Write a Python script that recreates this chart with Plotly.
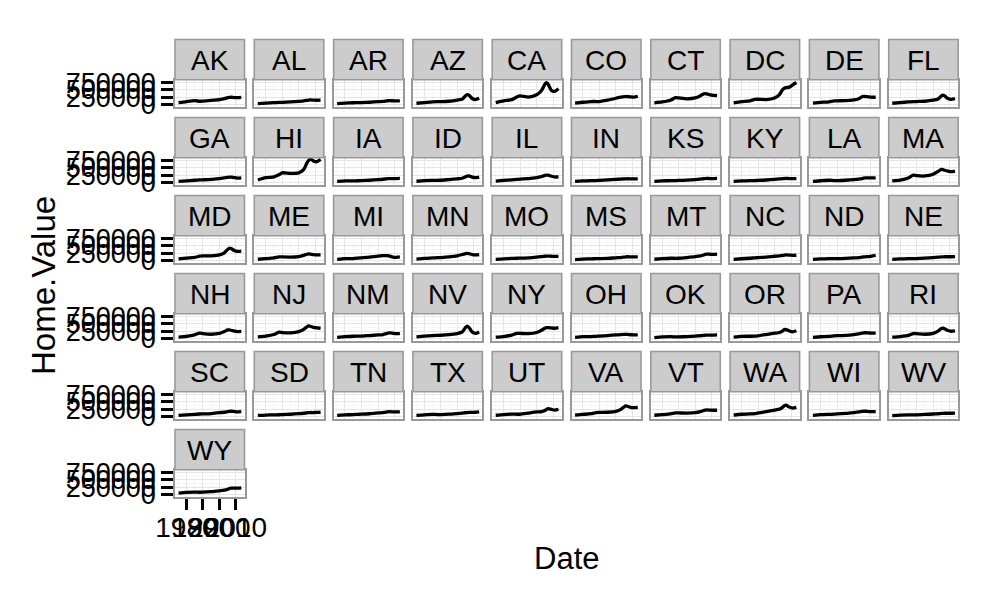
import plotly.graph_objects as go

states = ["AK","AL","AR","AZ","CA","CO","CT","DC","DE","FL",
          "GA","HI","IA","ID","IL","IN","KS","KY","LA","MA",
          "MD","ME","MI","MN","MO","MS","MT","NC","ND","NE",
          "NH","NJ","NM","NV","NY","OH","OK","OR","PA","RI",
          "SC","SD","TN","TX","UT","VA","VT","WA","WI","WV","WY"]

dates = [1975.25, 1980, 1985, 1988, 1990, 1995, 2000, 2003, 2005, 2006, 2007, 2009, 2011, 2013.25]

# Home values in thousands of dollars
home_value_k = {
    "AK": [60, 95, 125, 105, 110, 135, 165, 195, 230, 240, 245, 235, 230, 240],
    "AL": [25, 40, 55, 62, 65, 80, 100, 115, 135, 145, 150, 145, 140, 142],
    "AR": [25, 40, 52, 56, 58, 70, 90, 100, 115, 122, 125, 122, 118, 120],
    "AZ": [35, 60, 85, 90, 90, 105, 145, 180, 300, 340, 320, 200, 165, 210],
    "CA": [60, 120, 160, 250, 290, 250, 330, 480, 700, 760, 700, 480, 450, 540],
    "CO": [40, 70, 95, 95, 95, 140, 210, 245, 265, 270, 270, 255, 250, 280],
    "CT": [50, 80, 140, 230, 220, 190, 220, 290, 360, 375, 365, 330, 310, 300],
    "DC": [50, 90, 120, 170, 175, 165, 220, 340, 520, 560, 580, 600, 680, 760],
    "DE": [40, 65, 85, 115, 120, 125, 150, 195, 260, 275, 270, 255, 245, 245],
    "FL": [35, 60, 80, 90, 95, 105, 140, 185, 290, 320, 290, 200, 170, 200],
    "GA": [30, 50, 70, 80, 85, 100, 130, 150, 170, 180, 180, 160, 145, 155],
    "HI": [80, 160, 190, 260, 330, 310, 330, 440, 680, 760, 820, 740, 720, 800],
    "IA": [30, 45, 50, 52, 55, 70, 90, 105, 120, 125, 127, 127, 128, 132],
    "ID": [35, 55, 65, 65, 70, 95, 120, 140, 190, 220, 225, 180, 160, 180],
    "IL": [40, 65, 85, 100, 110, 125, 160, 200, 240, 250, 245, 210, 185, 185],
    "IN": [28, 45, 55, 60, 65, 80, 100, 110, 118, 120, 122, 118, 115, 118],
    "KS": [28, 45, 58, 60, 62, 75, 95, 110, 122, 128, 132, 130, 128, 132],
    "KY": [28, 45, 55, 60, 63, 78, 100, 115, 125, 130, 133, 130, 128, 130],
    "LA": [30, 52, 70, 60, 60, 70, 90, 110, 130, 145, 152, 150, 150, 155],
    "MA": [45, 75, 150, 250, 230, 220, 280, 380, 450, 440, 420, 390, 370, 390],
    "MD": [45, 75, 100, 140, 150, 155, 185, 260, 380, 420, 410, 340, 310, 320],
    "ME": [35, 55, 80, 120, 115, 110, 130, 170, 210, 220, 215, 200, 190, 190],
    "MI": [33, 55, 60, 75, 85, 110, 145, 160, 165, 160, 145, 110, 100, 115],
    "MN": [38, 65, 80, 90, 95, 115, 155, 200, 235, 240, 230, 200, 185, 200],
    "MO": [30, 50, 62, 70, 72, 85, 110, 125, 140, 145, 145, 140, 135, 138],
    "MS": [25, 40, 50, 55, 56, 65, 85, 95, 110, 118, 122, 120, 118, 120],
    "MT": [35, 55, 70, 68, 70, 95, 125, 150, 185, 205, 215, 210, 205, 215],
    "NC": [33, 52, 70, 85, 90, 110, 140, 155, 170, 180, 185, 180, 170, 175],
    "ND": [28, 45, 55, 55, 55, 65, 80, 95, 110, 115, 120, 130, 145, 175],
    "NE": [28, 45, 55, 58, 60, 75, 95, 108, 118, 120, 122, 122, 122, 128],
    "NH": [40, 65, 120, 180, 160, 140, 170, 235, 290, 290, 280, 250, 235, 240],
    "NJ": [45, 75, 130, 210, 200, 190, 230, 310, 400, 430, 420, 380, 360, 350],
    "NM": [33, 55, 70, 72, 75, 95, 115, 130, 160, 180, 185, 175, 165, 165],
    "NV": [45, 75, 95, 100, 105, 125, 165, 220, 380, 420, 380, 220, 170, 220],
    "NY": [40, 60, 110, 170, 170, 160, 200, 280, 350, 370, 375, 360, 350, 370],
    "OH": [33, 55, 60, 68, 75, 95, 120, 130, 135, 135, 132, 122, 118, 120],
    "OK": [25, 45, 55, 48, 48, 58, 75, 88, 98, 105, 110, 112, 112, 118],
    "OR": [40, 65, 70, 72, 85, 130, 175, 200, 260, 300, 305, 255, 225, 260],
    "PA": [33, 52, 65, 85, 90, 100, 125, 150, 180, 190, 192, 185, 180, 182],
    "RI": [38, 60, 100, 165, 160, 140, 170, 250, 340, 350, 330, 270, 245, 255],
    "SC": [30, 48, 65, 78, 82, 95, 125, 140, 160, 170, 175, 165, 155, 160],
    "SD": [28, 42, 50, 52, 55, 70, 90, 105, 120, 125, 130, 130, 132, 140],
    "TN": [28, 45, 60, 68, 72, 88, 115, 130, 145, 155, 160, 155, 150, 155],
    "TX": [30, 50, 65, 60, 60, 72, 95, 110, 122, 128, 135, 138, 140, 155],
    "UT": [35, 60, 75, 70, 70, 110, 150, 165, 200, 240, 270, 240, 215, 240],
    "VA": [40, 65, 90, 130, 135, 140, 170, 240, 330, 360, 350, 310, 300, 310],
    "VT": [35, 55, 80, 115, 115, 110, 125, 160, 200, 215, 220, 215, 210, 210],
    "WA": [40, 70, 80, 90, 115, 160, 215, 250, 320, 370, 385, 320, 285, 310],
    "WI": [33, 55, 65, 72, 80, 100, 130, 150, 170, 175, 175, 165, 160, 160],
    "WV": [22, 38, 45, 48, 50, 62, 78, 88, 98, 102, 105, 105, 105, 108],
    "WY": [40, 65, 75, 70, 72, 90, 120, 140, 175, 200, 215, 215, 215, 225],
}

x_ticks = [1980, 1990, 2000, 2010]
x_minor = [1975, 1985, 1995, 2005, 2015]
y_ticks = [0, 250000, 500000, 750000]
y_tick_text = ["0", "250000", "500000", "750000"]
y_minor = [125000, 375000, 625000]

FONT = "Liberation Sans, Arial, Helvetica, sans-serif"
W, H = 1000, 600
ncol = 10
col_left0, col_pitch, panel_w = 175.0, 79.3, 69.5
row_top0, row_pitch, panel_h, strip_h = 79.7, 78.0, 27.0, 40.2

fig = go.Figure()
layout = dict(
    template="none",
    width=W, height=H, margin=dict(l=0, r=0, t=0, b=0, pad=0),
    paper_bgcolor="white", plot_bgcolor="white", showlegend=False,
    font=dict(family=FONT, color="black"),
)
shapes, annotations = [], []

for i, st in enumerate(states):
    r, c = divmod(i, ncol)
    left = col_left0 + c * col_pitch
    top = row_top0 + r * row_pitch
    bottom = top + panel_h
    k = "" if i == 0 else str(i + 1)
    xa, ya = "x" + k, "y" + k
    fig.add_trace(go.Scatter(
        x=dates, y=[v * 1000 for v in home_value_k[st]],
        mode="lines", line=dict(color="black", width=3.3, shape="spline", smoothing=0.6),
        xaxis=xa, yaxis=ya, hoverinfo="skip"))
    show_x = (st == "WY")
    show_y = (c == 0)
    layout["xaxis" + k] = dict(
        domain=[left / W, (left + panel_w) / W], anchor=ya, automargin=False,
        range=[1973.1, 2015.2], tickvals=x_ticks, ticktext=[str(t) for t in x_ticks],
        showticklabels=show_x, ticks="outside" if show_x else "", tickangle=0,
        ticklen=11, tickwidth=2.5, tickcolor="black", ticklabelstandoff=-6,
        tickfont=dict(size=28, color="black", family=FONT),
        showgrid=True, gridcolor="#E5E5E5", gridwidth=1.2,
        minor=dict(tickvals=x_minor, showgrid=True, gridcolor="#F7F7F7", gridwidth=1, ticks=""),
        showline=True, mirror=True, linecolor="#999999", linewidth=1.6,
        zeroline=False, fixedrange=True,
    )
    layout["yaxis" + k] = dict(
        domain=[1 - bottom / H, 1 - top / H], anchor=xa, automargin=False,
        range=[-86000, 859000], tickvals=y_ticks, ticktext=y_tick_text,
        showticklabels=show_y, ticks="outside" if show_y else "", tickangle=0,
        ticklen=12, tickwidth=2.5, tickcolor="black",
        tickfont=dict(size=27, color="black", family=FONT),
        showgrid=True, gridcolor="#E5E5E5", gridwidth=1.2,
        minor=dict(tickvals=y_minor, showgrid=True, gridcolor="#F7F7F7", gridwidth=1, ticks=""),
        showline=True, mirror=True, linecolor="#999999", linewidth=1.6,
        zeroline=False, fixedrange=True,
    )
    s_top = top - strip_h
    shapes.append(dict(type="rect", xref="paper", yref="paper",
                       x0=left / W, x1=(left + panel_w) / W,
                       y0=1 - top / H, y1=1 - s_top / H,
                       fillcolor="#CCCCCC", line=dict(color="#999999", width=1.6), layer="above"))
    annotations.append(dict(text=st, xref="paper", yref="paper",
                            x=(left + panel_w / 2) / W, y=1 - (s_top + strip_h / 2 + 1) / H,
                            showarrow=False, xanchor="center", yanchor="middle",
                            font=dict(size=28, color="black", family=FONT)))

annotations.append(dict(text="Date", xref="paper", yref="paper", x=566 / W, y=1 - 558 / H,
                        showarrow=False, xanchor="center", yanchor="middle",
                        font=dict(size=31, color="black", family=FONT)))
annotations.append(dict(text="Home.Value", xref="paper", yref="paper", x=43 / W, y=1 - 286 / H,
                        showarrow=False, xanchor="center", yanchor="middle", textangle=-90,
                        font=dict(size=33, color="black", family=FONT)))

layout["shapes"] = shapes
layout["annotations"] = annotations
fig.update_layout(**layout)
fig.write_html("out.html")
